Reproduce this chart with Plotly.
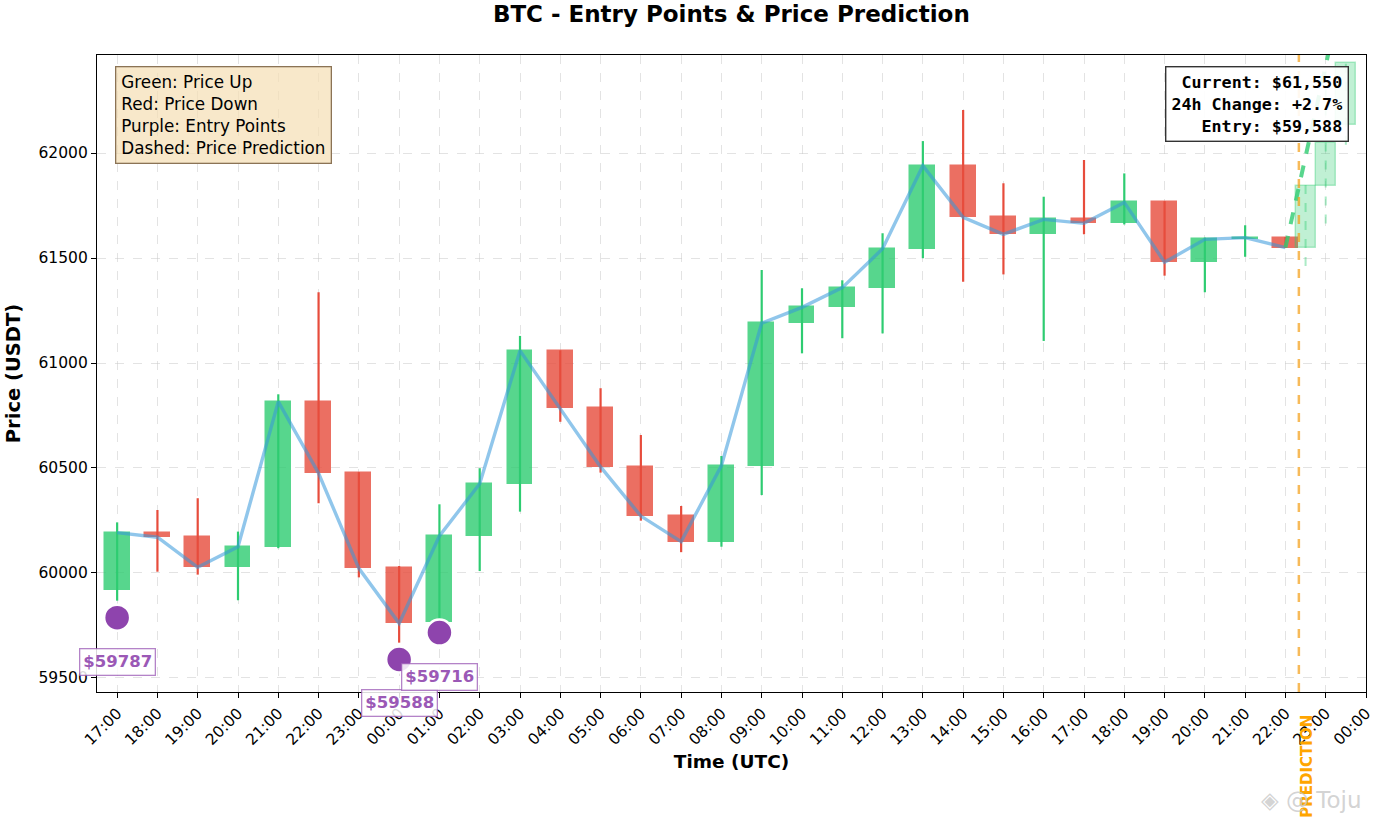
import plotly.graph_objects as go

# hourly candles (UTC)
times = [
    "2024-03-10 17:00", "2024-03-10 18:00", "2024-03-10 19:00", "2024-03-10 20:00",
    "2024-03-10 21:00", "2024-03-10 22:00", "2024-03-10 23:00", "2024-03-11 00:00",
    "2024-03-11 01:00", "2024-03-11 02:00", "2024-03-11 03:00", "2024-03-11 04:00",
    "2024-03-11 05:00", "2024-03-11 06:00", "2024-03-11 07:00", "2024-03-11 08:00",
    "2024-03-11 09:00", "2024-03-11 10:00", "2024-03-11 11:00", "2024-03-11 12:00",
    "2024-03-11 13:00", "2024-03-11 14:00", "2024-03-11 15:00", "2024-03-11 16:00",
    "2024-03-11 17:00", "2024-03-11 18:00", "2024-03-11 19:00", "2024-03-11 20:00",
    "2024-03-11 21:00", "2024-03-11 22:00",
]
opens = [59919, 60192, 60173, 60027, 60125, 60816, 60478, 60022, 59765, 60176,
         60425, 61059, 60784, 60505, 60271, 60149, 60511, 61190, 61265, 61359,
         61544, 61940, 61694, 61613, 61684, 61665, 61765, 61480, 61589, 61597]
highs = [60241, 60300, 60356, 60197, 60851, 61337, 60480, 60033, 60327, 60499,
         61129, 61060, 60880, 60657, 60319, 60557, 61443, 61356, 61394, 61618,
         62057, 62205, 61856, 61792, 61967, 61903, 61771, 61597, 61656, 61600]
lows = [59868, 60006, 59992, 59870, 60118, 60332, 59979, 59668, 59740, 60009,
        60292, 60720, 60478, 60249, 60099, 60125, 60371, 61046, 61118, 61141,
        61499, 61387, 61422, 61105, 61613, 61660, 61416, 61337, 61506, 61548]
closes = [60192, 60170, 60027, 60125, 60816, 60475, 60022, 59760, 60176, 60425,
          61059, 60784, 60505, 60271, 60149, 60511, 61190, 61265, 61359, 61544,
          61940, 61694, 61613, 61684, 61665, 61765, 61480, 61589, 61597, 61550]

# entry points
entry_times = ["2024-03-10 17:00", "2024-03-11 00:00", "2024-03-11 01:00"]
entry_prices = [59787, 59588, 59716]

# prediction
pred_times = ["2024-03-11 22:30", "2024-03-11 23:00", "2024-03-11 23:30"]
pred_open = [61550, 61843, 62133]
pred_close = [61843, 62046, 62427]
pred_high = [61870, 62429, 62600]
pred_low = [61462, 61665, 62040]
pred_line_times = ["2024-03-11 22:00", "2024-03-11 22:30", "2024-03-11 23:00", "2024-03-11 23:30"]
pred_line_values = [61550, 61985, 62420, 62850]
prediction_start = "2024-03-11 22:20"

GREEN = "#2ECC71"
RED = "#E74C3C"
PURPLE = "#8E44AD"
HOUR = 3600000

fig = go.Figure()

# wicks
for up in (True, False):
    wx, wy = [], []
    for t, o, h, l, c in zip(times, opens, highs, lows, closes):
        if (c >= o) == up:
            wx += [t, t, None]
            wy += [l, h, None]
    fig.add_trace(go.Scatter(x=wx, y=wy, mode="lines",
                             line=dict(color=GREEN if up else RED, width=2.2),
                             hoverinfo="skip", showlegend=False))

# bodies
for up in (True, False):
    bx, bb, bh = [], [], []
    for t, o, c in zip(times, opens, closes):
        if (c >= o) == up:
            bx.append(t)
            bb.append(min(o, c))
            bh.append(abs(c - o))
    col = GREEN if up else RED
    fig.add_trace(go.Bar(x=bx, y=bh, base=bb, width=0.62 * HOUR,
                         marker=dict(color=col, opacity=0.8,
                                     line=dict(color=col, width=1.5)),
                         showlegend=False))

# close price line
fig.add_trace(go.Scatter(x=times, y=closes, mode="lines",
                         line=dict(color="rgba(52,152,219,0.55)", width=3.4),
                         showlegend=False))

# prediction candles
pwx, pwy = [], []
for t, h, l in zip(pred_times, pred_high, pred_low):
    pwx += [t, t, None]
    pwy += [l, h, None]
fig.add_trace(go.Scatter(x=pwx, y=pwy, mode="lines",
                         line=dict(color="rgba(46,204,113,0.4)", width=2, dash="dash"),
                         showlegend=False))
fig.add_trace(go.Bar(x=pred_times, y=[c - o for o, c in zip(pred_open, pred_close)],
                     base=pred_open, width=0.5 * HOUR,
                     marker=dict(color="rgba(46,204,113,0.3)",
                                 line=dict(color="rgba(46,204,113,0.35)", width=1.5)),
                     showlegend=False))
fig.add_trace(go.Scatter(x=pred_line_times, y=pred_line_values, mode="lines",
                         line=dict(color="rgba(46,204,113,0.8)", width=4, dash="dash"),
                         showlegend=False))

# entry markers
fig.add_trace(go.Scatter(x=entry_times, y=entry_prices, mode="markers",
                         marker=dict(size=26, color=PURPLE, line=dict(color="white", width=2.5)),
                         showlegend=False))
for t, p in zip(entry_times, entry_prices):
    fig.add_annotation(x=t, y=p, text=f"<b>${p}</b>", showarrow=False, yshift=-44,
                       font=dict(size=16.5, color="#9B59B6", family="DejaVu Sans"),
                       bgcolor="rgba(255,255,255,0.85)", bordercolor="rgba(155,89,182,0.75)",
                       borderwidth=1.3, borderpad=3)

# prediction marker line
fig.add_shape(type="line", x0=prediction_start, x1=prediction_start, y0=0, y1=1,
              xref="x", yref="paper",
              line=dict(color="rgba(243,156,18,0.7)", width=2.5, dash="dash"))
fig.add_annotation(x=prediction_start, y=-0.116, xref="x", yref="paper", yanchor="middle",
                   text="<b>PREDICTION</b>", textangle=-90, showarrow=False,
                   xshift=8, font=dict(size=15, color="orange", family="DejaVu Sans"))

# text boxes
fig.add_annotation(x=0.0142, y=0.983, xref="paper", yref="paper",
                   xanchor="left", yanchor="top", align="left", showarrow=False,
                   text="Green: Price Up<br>Red: Price Down<br>Purple: Entry Points<br>Dashed: Price Prediction",
                   font=dict(size=16.8, color="black", family="DejaVu Sans"),
                   bgcolor="rgba(245,222,179,0.7)", bordercolor="#8B7355",
                   borderwidth=1.3, borderpad=5)
fig.add_annotation(x=0.9866, y=0.9827, xref="paper", yref="paper",
                   xanchor="right", yanchor="top", align="right", showarrow=False,
                   text="<b>Current: $61,550<br>24h Change: +2.7%<br>Entry: $59,588</b>",
                   font=dict(size=16.7, color="black", family="DejaVu Sans Mono"),
                   bgcolor="rgba(255,255,255,0.9)", bordercolor="#333333",
                   borderwidth=1.4, borderpad=5)

# watermark
fig.add_annotation(x=0.9985, y=-0.1695, xref="paper", yref="paper",
                   xanchor="right", yanchor="middle",
                   text="◈ @ Toju", showarrow=False,
                   font=dict(size=23, color="rgba(200,200,200,0.8)", family="DejaVu Sans"))

fig.update_layout(
    width=1376, height=825,
    margin=dict(l=97, r=10, t=55, b=133),
    plot_bgcolor="white", paper_bgcolor="white",
    barmode="overlay", bargap=0,
    font=dict(family="DejaVu Sans", color="black"),
    title=dict(text="<b>BTC - Entry Points & Price Prediction</b>", x=0.5315, xanchor="center",
               y=0.983, yref="container", yanchor="middle", font=dict(size=23)),
)
fig.update_xaxes(
    type="date", range=["2024-03-10 16:30", "2024-03-12 00:00"],
    tickformat="%H:%M", dtick=HOUR, tick0="2024-03-10 17:00", tickangle=-45,
    tickfont=dict(size=15.5), automargin=False,
    title=dict(text="<b>Time (UTC)</b>", font=dict(size=18.5), standoff=7),
    showgrid=True, gridcolor="rgba(200,200,200,0.5)", griddash="dash", gridwidth=1,
    showline=True, linecolor="black", linewidth=1.2, mirror=True,
    ticks="outside", ticklen=5, tickcolor="black", zeroline=False,
)
fig.update_yaxes(
    range=[59433, 62467], dtick=500, tickformat="d",
    tickfont=dict(size=15.5), automargin=False,
    title=dict(text="<b>Price (USDT)</b>", font=dict(size=19.5), standoff=12),
    showgrid=True, gridcolor="rgba(200,200,200,0.5)", griddash="dash", gridwidth=1,
    showline=True, linecolor="black", linewidth=1.2, mirror=True,
    ticks="outside", ticklen=5, tickcolor="black", zeroline=False,
)

fig.write_html("out.html", config={"displayModeBar": False},
               post_script="document.body.style.margin='0';")
